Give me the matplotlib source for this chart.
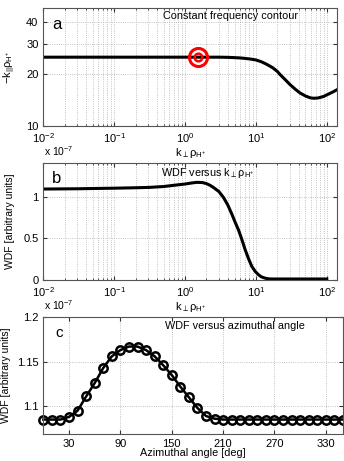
import numpy as np
import matplotlib
matplotlib.use('Agg')
import matplotlib.pyplot as plt

plt.rcParams['font.family'] = ['Liberation Sans', 'DejaVu Sans']
plt.rcParams['mathtext.fontset'] = 'custom'
plt.rcParams['mathtext.rm'] = 'Liberation Sans'
plt.rcParams['mathtext.fallback'] = 'stixsans'

# panel a: constant frequency contour (k_perp rho vs -k_par rho)
kperp_a = [0.01, 0.1, 1.0, 2.26, 3.0, 4.0, 5.0, 6.0, 7.0, 8.3, 10, 12, 14.3, 17, 20, 22, 25,
           30.5, 36, 42, 50, 58, 65, 75, 90, 110, 125, 140]
kpar_a = [25.0, 25.0, 25.0, 25.0, 25.0, 24.95, 24.85, 24.75, 24.6, 24.4, 24.1, 23.5, 22.7, 21.8,
          20.7, 19.8, 18.8, 17.3, 16.3, 15.5, 14.9, 14.55, 14.45, 14.5, 14.8, 15.4, 15.8, 16.2]
marker_x = [1.5]
marker_y = [25.0]

# panel b: WDF versus k_perp rho
kperp_b = [0.01, 0.03, 0.1, 0.2, 0.32, 0.5, 0.7, 1.0, 1.25, 1.46, 1.75, 2.0, 2.25, 2.5, 3.0, 3.48,
           4.0, 4.57, 5.1, 5.67, 6.3, 7.06, 7.9, 8.77, 9.8, 10.9, 12, 13.5, 15, 17, 25, 50, 100]
wdf_b = [1.09, 1.093, 1.10, 1.105, 1.11, 1.12, 1.135, 1.15, 1.163, 1.17, 1.168, 1.155, 1.135,
         1.11, 1.06, 0.99, 0.90, 0.79, 0.69, 0.60, 0.49, 0.36, 0.25, 0.16, 0.10, 0.06, 0.035,
         0.02, 0.012, 0.01, 0.01, 0.01, 0.01]

# panel c: WDF versus azimuthal angle
angle = list(range(0, 351, 10))
wdf_c = [1.085, 1.085, 1.085, 1.088, 1.095, 1.111, 1.126, 1.143, 1.156, 1.163, 1.167, 1.167,
         1.163, 1.156, 1.146, 1.135, 1.122, 1.110, 1.098, 1.089, 1.086] + [1.085] * 15

fig = plt.figure(figsize=(3.44, 4.61), dpi=100)
axa = fig.add_axes([0.126, 0.727, 0.854, 0.255])
axb = fig.add_axes([0.126, 0.393, 0.854, 0.253])
axc = fig.add_axes([0.126, 0.059, 0.871, 0.253])

grid_kw = dict(color='#b0b0b0', linestyle=':', linewidth=0.6)
xlab = r'$\mathrm{k_{\perp}\rho_{H^{+}}}$'
log_ticks = [0.01, 0.1, 1, 10, 100]
log_labels = [r'$10^{-2}$', r'$10^{-1}$', r'$10^{0}$', r'$10^{1}$', r'$10^{2}$']


def style(ax):
    ax.tick_params(which='both', direction='in', top=True, right=True, labelsize=8,
                   color='#333333')
    ax.tick_params(axis='x', pad=4)
    ax.tick_params(which='major', length=3)
    ax.tick_params(which='minor', length=1.5)
    for s in ax.spines.values():
        s.set_color('#555555')
        s.set_linewidth(0.8)


# a
axa.plot(kperp_a, kpar_a, color='black', lw=2.2)
axa.plot(marker_x, marker_y, 'o', ms=13, mfc='none', mec='red', mew=2.2)
axa.plot(marker_x, marker_y, 'o', ms=5.5, mfc='none', mec='red', mew=1.8)
axa.set_xscale('log')
axa.set_yscale('log')
axa.set_xlim(0.01, 140)
axa.set_ylim(10, 48)
axa.set_yticks([10, 20, 30, 40])
axa.set_yticklabels(['10', '20', '30', '40'])
axa.yaxis.set_minor_locator(matplotlib.ticker.NullLocator())
axa.set_xticks(log_ticks)
axa.set_xticklabels(log_labels)
axa.grid(True, which='both', **grid_kw)
axa.set_ylabel(r'$\mathrm{-k_{||}\rho_{H^{+}}}$', fontsize=8, labelpad=6)
axa.set_xlabel(xlab, fontsize=8, labelpad=0.5)
axa.text(0.03, 0.93, 'a', transform=axa.transAxes, fontsize=12, va='top')
axa.text(0.636, 0.975, 'Constant frequency contour', transform=axa.transAxes, fontsize=7.8,
         ha='center', va='top')
style(axa)

# b
axb.plot(kperp_b, wdf_b, color='black', lw=2.2)
axb.set_xscale('log')
axb.set_xlim(0.01, 140)
axb.set_ylim(0, 1.4)
axb.set_yticks([0, 0.5, 1])
axb.set_yticklabels(['0', '0.5', '1'])
axb.set_xticks(log_ticks)
axb.set_xticklabels(log_labels)
axb.grid(True, which='both', **grid_kw)
axb.set_ylabel('WDF [arbitrary units]', fontsize=7.5, labelpad=6)
axb.set_xlabel(xlab, fontsize=8, labelpad=0.5)
axb.text(0.03, 0.93, 'b', transform=axb.transAxes, fontsize=12, va='top')
axb.text(0.56, 0.98, r'WDF versus $\mathrm{k_{\perp}\rho_{H^{+}}}$', transform=axb.transAxes,
         fontsize=7.8, ha='center', va='top')
style(axb)

# c
axc.plot(angle, wdf_c, color='black', lw=1.8, marker='o', ms=6, mfc='none', mec='black',
         mew=1.8, clip_on=False)
axc.set_xlim(0, 350)
axc.set_ylim(1.069, 1.2)
axc.set_xticks([30, 90, 150, 210, 270, 330])
axc.set_yticks([1.1, 1.15, 1.2])
axc.set_yticklabels(['1.1', '1.15', '1.2'])
axc.grid(True, which='major', **grid_kw)
axc.set_ylabel('WDF [arbitrary units]', fontsize=7.5, labelpad=4)
axc.set_xlabel('Azimuthal angle [deg]', fontsize=7.8, labelpad=-1)
axc.text(0.04, 0.92, 'c', transform=axc.transAxes, fontsize=11, va='top')
axc.text(0.64, 0.97, 'WDF versus azimuthal angle', transform=axc.transAxes, fontsize=7.8,
         ha='center', va='top')
style(axc)

# MATLAB style exponent labels
fig.text(0.128, 0.662, r'x $10^{-7}$', fontsize=7.5)
fig.text(0.128, 0.328, r'x $10^{-7}$', fontsize=7.5)

fig.savefig('out.png', dpi=100)
